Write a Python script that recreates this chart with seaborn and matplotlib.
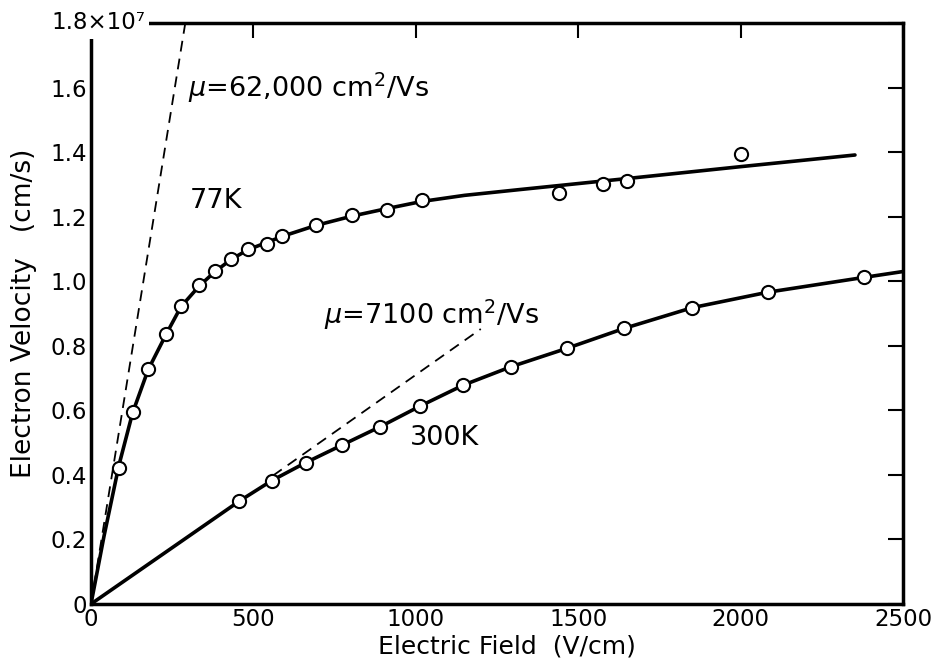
import numpy as np
import pandas as pd
import matplotlib
matplotlib.use("Agg")
import matplotlib.pyplot as plt
import seaborn as sns

# Measured drift velocity (units of 1e7 cm/s) versus electric field (V/cm)
field_77k = [86, 128, 176, 231, 277, 333, 382, 431, 482, 541, 589, 693, 805, 911,
             1018, 1442, 1577, 1649, 2001]
vel_77k = [0.422, 0.596, 0.727, 0.836, 0.924, 0.987, 1.031, 1.069, 1.100, 1.116,
           1.140, 1.173, 1.204, 1.220, 1.252, 1.272, 1.300, 1.310, 1.393]

field_300k = [457, 556, 661, 774, 890, 1013, 1146, 1293, 1465, 1642, 1851, 2084, 2381]
vel_300k = [0.319, 0.382, 0.438, 0.493, 0.549, 0.613, 0.678, 0.735, 0.792, 0.854,
            0.918, 0.966, 1.012]

# Hand-drawn smooth curves through the data
fit_field_77k = [0, 40, 86, 128, 176, 231, 277, 333, 382, 431, 482, 541, 589, 693,
                 805, 911, 1018, 1150, 1321, 1650, 2001, 2352]
fit_vel_77k = [0.0, 0.21, 0.43, 0.592, 0.726, 0.835, 0.921, 0.985, 1.030, 1.067,
               1.097, 1.120, 1.139, 1.173, 1.202, 1.225, 1.247, 1.266, 1.284, 1.318,
               1.355, 1.391]

fit_field_300k = [0, 457, 556, 661, 774, 890, 1013, 1146, 1293, 1465, 1642, 1851,
                  2084, 2381, 2500]
fit_vel_300k = [0.0, 0.319, 0.382, 0.438, 0.493, 0.549, 0.613, 0.678, 0.735, 0.792,
                0.854, 0.918, 0.966, 1.012, 1.030]

# Low-field mobility lines, v = mu * E
mu_77k = 62000      # cm^2/Vs
mu_300k = 7100      # cm^2/Vs
mu_line_77k_field = [0, 290]
mu_line_300k_field = [560, 1200]

x_ticks = [0, 500, 1000, 1500, 2000, 2500]
y_ticks = [0, 0.2, 0.4, 0.6, 0.8, 1.0, 1.2, 1.4, 1.6, 1.8]
y_tick_labels = ["0", "0.2", "0.4", "0.6", "0.8", "1.0", "1.2", "1.4", "1.6", ""]

sns.set_theme(style="white")
plt.rcParams["font.family"] = ["DejaVu Sans"]
plt.rcParams["mathtext.fontset"] = "dejavusans"

fig = plt.figure(figsize=(9.45, 6.62), dpi=100)
ax = fig.add_axes([0.0963, 0.0876, 0.8593, 0.8777])

ink = "black"

def mu_frame(mu, fields):
    e = np.array(fields, dtype=float)
    return pd.DataFrame({"E": e, "v": mu * e / 1e7})

sns.lineplot(data=mu_frame(mu_77k, mu_line_77k_field), x="E", y="v", ax=ax,
             color=ink, lw=1.3, linestyle=(0, (6, 4)), sort=False)
sns.lineplot(data=mu_frame(mu_300k, mu_line_300k_field), x="E", y="v", ax=ax,
             color=ink, lw=1.3, linestyle=(0, (6, 4)), sort=False)

sns.lineplot(data=pd.DataFrame({"E": fit_field_77k, "v": fit_vel_77k}), x="E", y="v",
             ax=ax, color=ink, lw=2.6, sort=False)
sns.lineplot(data=pd.DataFrame({"E": fit_field_300k, "v": fit_vel_300k}), x="E", y="v",
             ax=ax, color=ink, lw=2.6, sort=False)

for fx, fy in ((field_77k, vel_77k), (field_300k, vel_300k)):
    sns.scatterplot(data=pd.DataFrame({"E": fx, "v": fy}), x="E", y="v", ax=ax,
                    s=90, facecolor="white", edgecolor=ink, linewidth=1.5, zorder=5)

ax.set_xlim(0, 2500)
ax.set_ylim(0, 1.8)
ax.set_xticks(x_ticks)
ax.set_xticklabels([str(t) for t in x_ticks])
ax.set_yticks(y_ticks)
ax.set_yticklabels(y_tick_labels)

ax.tick_params(direction="in", length=11, width=1.5, color=ink, labelsize=16.5,
               labelcolor=ink, top=True, right=True)
ax.tick_params(axis="y", pad=3)
ax.tick_params(axis="x", pad=3)
for sp in ax.spines.values():
    sp.set_visible(True)
    sp.set_color(ink)
    sp.set_linewidth(2.5)

ax.set_xlabel("Electric Field  (V/cm)", fontsize=18, color=ink)
ax.xaxis.set_label_coords(0.512, -0.052)
ax.set_ylabel("Electron Velocity   (cm/s)", fontsize=19, color=ink)
ax.yaxis.set_label_coords(-0.066, 0.5)

ax.text(0.0665, 1.0, "1.8×10⁷", transform=ax.transAxes, ha="right", va="center",
        fontsize=16.5, color=ink, zorder=10,
        bbox=dict(facecolor="white", edgecolor="none", pad=3), clip_on=False)

ax.text(299, 1.60, r"$\mu$=62,000 cm$^2$/Vs", fontsize=19.5, color=ink,
        ha="left", va="center")
ax.text(305, 1.25, "77K", fontsize=19.5, color=ink, ha="left", va="center")
ax.text(718, 0.895, r"$\mu$=7100 cm$^2$/Vs", fontsize=19.5, color=ink,
        ha="left", va="center")
ax.text(982, 0.514, "300K", fontsize=19.5, color=ink, ha="left", va="center")

fig.savefig("out.png", dpi=100, facecolor="white")
